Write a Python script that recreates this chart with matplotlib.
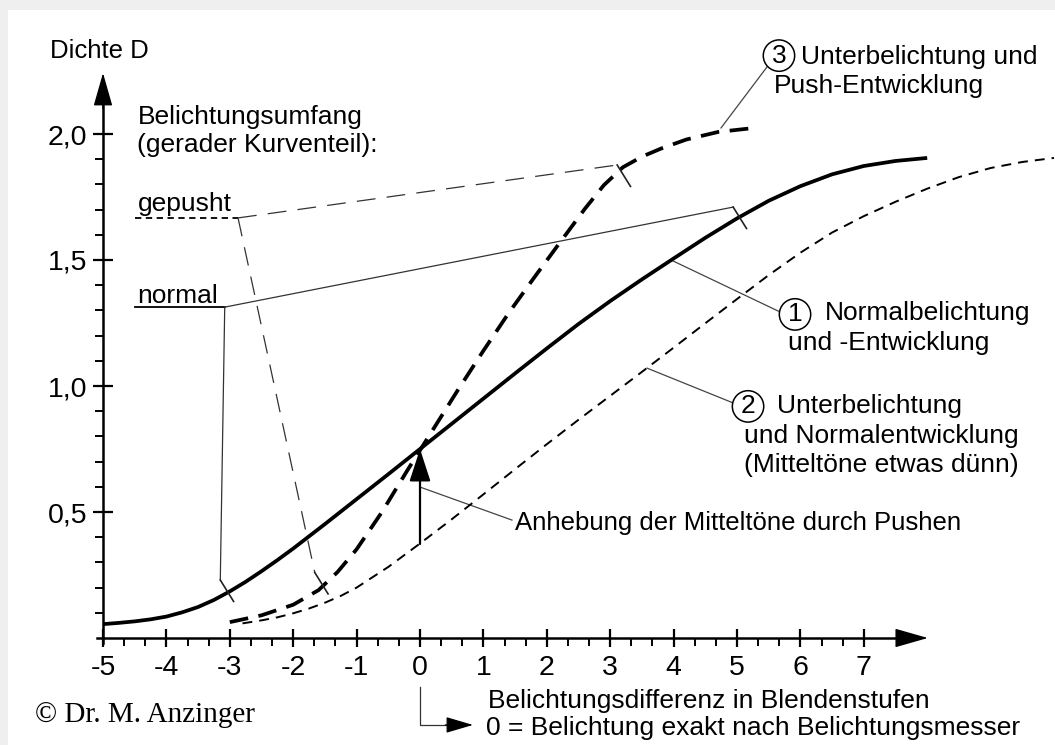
import matplotlib
matplotlib.use('Agg')
import matplotlib.pyplot as plt
from matplotlib.patches import Rectangle

plt.rcParams['font.family'] = ['Liberation Sans', 'DejaVu Sans']

# Kurve 1: Normalbelichtung und -Entwicklung
x_normal = [-5, -4.75, -4.5, -4.25, -4, -3.75, -3.5, -3.25, -3, -2.75, -2.5, -2.25,
            -2, -1.5, -1, -0.5, 0, 0.5, 1, 1.5, 2, 2.5, 3, 3.5, 4, 4.5, 5,
            5.5, 6, 6.5, 7, 7.5, 8]
d_normal = [0.055, 0.060, 0.066, 0.074, 0.085, 0.102, 0.123, 0.151, 0.185, 0.223,
            0.265, 0.309, 0.355, 0.452, 0.551, 0.650, 0.750, 0.850, 0.950, 1.050,
            1.149, 1.246, 1.337, 1.423, 1.506, 1.588, 1.665, 1.735, 1.793, 1.840,
            1.873, 1.893, 1.905]

# Kurve 2: Unterbelichtung und Normalentwicklung
x_unter = [-2.8, -2.5, -2.25, -2, -1.75, -1.5, -1.25, -1, -0.5, 0, 0.5, 1, 1.5, 2,
           2.5, 3, 3.5, 4, 4.5, 5, 5.5, 6, 6.5, 7, 7.5, 8, 8.5, 9, 9.5, 10]
d_unter = [0.058, 0.070, 0.082, 0.098, 0.117, 0.140, 0.167, 0.200, 0.282, 0.375,
           0.471, 0.570, 0.670, 0.769, 0.866, 0.961, 1.056, 1.152, 1.249, 1.345,
           1.440, 1.529, 1.609, 1.674, 1.731, 1.783, 1.829, 1.865, 1.889, 1.905]

# Kurve 3: Unterbelichtung und Push-Entwicklung
x_push = [-3, -2.5, -2, -1.6, -1.3, -1, -0.6, -0.2, 0.2, 0.6, 1, 1.4, 1.8, 2.2,
          2.6, 2.9, 3.2, 3.5, 3.8, 4.2, 4.7, 5.2]
d_push = [0.063, 0.090, 0.132, 0.190, 0.262, 0.352, 0.500, 0.665, 0.825, 0.985,
          1.140, 1.290, 1.430, 1.567, 1.703, 1.797, 1.868, 1.910, 1.942, 1.978,
          2.008, 2.022]

# Belichtungsumfang (gerader Kurventeil): Eckpunkt, oben rechts, unten links
normal_ecke = (-3.08, 1.313)
normal_oben = (4.94, 1.71)
normal_unten = (-3.15, 0.23)
push_ecke = (-2.87, 1.667)
push_oben = (3.11, 1.877)
push_unten = (-1.66, 0.26)
label_x = -4.495

# Anhebung der Mitteltoene bei 0
anhebung_x = 0
anhebung_von = 0.373
anhebung_bis = 0.75

xticks = [-5, -4, -3, -2, -1, 0, 1, 2, 3, 4, 5, 6, 7]
xtick_labels = ['-5', '-4', '-3', '-2', '-1', '0', '1', '2', '3', '4', '5', '6', '7']
yticks = [0.5, 1.0, 1.5, 2.0]
ytick_labels = ['0,5', '1,0', '1,5', '2,0']

FS = 19
W, H = 1055, 745
fig = plt.figure(figsize=(W / 100, H / 100), dpi=100, facecolor='#efefef')
fig.patches.append(Rectangle((8, 0), W - 8, H - 10, transform=None,
                             facecolor='white', edgecolor='none', zorder=-10))
ax = fig.add_axes([0, 0, 1, 1])
ax.patch.set_visible(False)
ax.set_xlim(-420 / 63.4, (W - 420) / 63.4)
ax.set_ylim(-(H - 638) / 252, 638 / 252)

# Achsen
for s in ['top', 'right']:
    ax.spines[s].set_visible(False)
ax.spines['left'].set_position(('data', -5))
ax.spines['bottom'].set_position(('data', 0))
ax.spines['left'].set_bounds(-0.02, 2.15)
ax.spines['bottom'].set_bounds(-5.1, 7.7)
ax.spines['left'].set_linewidth(1.8)
ax.spines['bottom'].set_linewidth(1.8)

ax.set_xticks(xticks)
ax.set_xticklabels(xtick_labels)
ax.set_xticks([t + k / 3 for t in xticks for k in (1, 2) if t < 7], minor=True)
ax.set_yticks(yticks)
ax.set_yticklabels(ytick_labels)
ax.set_yticks([v / 10 for v in range(1, 20) if v % 5 != 0], minor=True)
ax.tick_params(which='major', direction='inout', length=15, width=1.6,
               labelsize=20.5, pad=4)
ax.tick_params(axis='x', which='major', length=13, pad=6)
ax.tick_params(which='minor', direction='out', length=6, width=1.4)

arrow_head = dict(arrowstyle='-|>,head_length=2.1,head_width=0.6',
                  mutation_scale=10, color='black', lw=1, shrinkA=0, shrinkB=0)
ax.annotate('', xy=(-5, 2.242), xytext=(-5, 2.1), arrowprops=arrow_head)
ax.annotate('', xy=(8.01, 0), xytext=(7.6, 0), arrowprops=arrow_head)

# Kennlinien
ax.plot(x_normal, d_normal, color='black', lw=2.7, solid_capstyle='butt',
        solid_joinstyle='round', zorder=5)
ax.plot(x_unter, d_unter, color='black', lw=1.4, ls=(0, (5.1, 3.6)), zorder=5)
ax.plot(x_push, d_push, color='black', lw=2.7, ls=(0, (5.0, 2.8)), zorder=5)

# Belichtungsumfang normal
thin = dict(color='#333333', lw=0.9, zorder=3)
ax.plot([label_x, normal_ecke[0]], [normal_ecke[1]] * 2, color='black', lw=1.3)
ax.plot([normal_ecke[0], normal_oben[0]], [normal_ecke[1], normal_oben[1]], **thin)
ax.plot([normal_ecke[0], normal_unten[0]], [normal_ecke[1], normal_unten[1]], **thin)

# Belichtungsumfang gepusht
ax.plot([label_x, push_ecke[0]], [push_ecke[1]] * 2, color='black', lw=1.3,
        ls=(0, (3.5, 2.5)))
ax.plot([push_ecke[0], push_oben[0]], [push_ecke[1], push_oben[1]],
        ls=(0, (15, 9)), **thin)
ax.plot([push_ecke[0], push_unten[0]], [push_ecke[1], push_unten[1]],
        ls=(0, (15, 9)), **thin)

# Endmarken
for px, py in [normal_oben, normal_unten, push_oben, push_unten]:
    ax.plot([px, px + 0.21], [py, py - 0.085], color='#222222', lw=1.2, zorder=6)

ax.text(label_x + 0.04, 1.694, 'gepusht', fontsize=FS, va='baseline')
ax.text(label_x + 0.04, 1.329, 'normal', fontsize=FS, va='baseline')
ax.text(-4.448, 2.040, 'Belichtungsumfang', fontsize=FS, va='baseline')
ax.text(-4.464, 1.929, '(gerader Kurventeil):', fontsize=FS, va='baseline')
ax.text(-5.836, 2.302, 'Dichte D', fontsize=FS - 0.5, va='baseline')

# Pfeil Anhebung
ax.annotate('', xy=(anhebung_x, anhebung_bis), xytext=(anhebung_x, anhebung_von),
            arrowprops=dict(arrowstyle='-|>,head_length=2.0,head_width=0.65',
                            mutation_scale=10, color='black', lw=1.6,
                            shrinkA=0, shrinkB=0), zorder=7)
ax.plot([0, 1.45], [0.599, 0.468], color='#444444', lw=0.9)
ax.text(1.498, 0.429, 'Anhebung der Mitteltöne durch Pushen', fontsize=FS - 0.5,
        va='baseline')

# Beschriftungen der Kurven
circ = dict(boxstyle='circle,pad=0.14', facecolor='white', edgecolor='black', lw=1.1)
ax.plot([5.473, 4.748], [2.266, 2.024], color='#444444', lw=0.9)
ax.text(5.662, 2.321, '3', fontsize=FS, ha='center', va='center_baseline', bbox=circ)
ax.text(6.009, 2.278, 'Unterbelichtung und', fontsize=FS, va='baseline')
ax.text(5.584, 2.163, 'Push-Entwicklung', fontsize=FS, va='baseline')

ax.plot([3.959, 5.678], [1.5, 1.294], color='#444444', lw=0.9)
ax.text(5.915, 1.294, '1', fontsize=FS, ha='center', va='center_baseline', bbox=circ)
ax.text(6.388, 1.262, 'Normalbelichtung', fontsize=FS, va='baseline')
ax.text(5.804, 1.143, 'und -Entwicklung', fontsize=FS, va='baseline')

ax.plot([3.580, 4.937], [1.071, 0.933], color='#444444', lw=0.9)
ax.text(5.174, 0.929, '2', fontsize=FS, ha='center', va='center_baseline', bbox=circ)
ax.text(5.631, 0.893, 'Unterbelichtung', fontsize=FS, va='baseline')
ax.text(5.110, 0.774, 'und Normalentwicklung', fontsize=FS, va='baseline')
ax.text(5.110, 0.659, '(Mitteltöne etwas dünn)', fontsize=FS, va='baseline')

# x-Achsenbeschriftung
ax.plot([0, 0, 0.45], [-0.194, -0.345, -0.345], color='#333333', lw=0.9)
ax.annotate('', xy=(0.836, -0.345), xytext=(0.4, -0.345),
            arrowprops=dict(arrowstyle='-|>,head_length=1.7,head_width=0.5',
                            mutation_scale=10, color='black', lw=0.9,
                            shrinkA=0, shrinkB=0))
ax.text(1.073, -0.278, 'Belichtungsdifferenz in Blendenstufen', fontsize=FS,
        va='baseline')
ax.text(1.041, -0.385, '0 = Belichtung exakt nach Belichtungsmesser',
        fontsize=FS, va='baseline')

ax.text(-6.073, -0.333, '© Dr. M. Anzinger', fontsize=21, va='baseline',
        family=['Liberation Serif', 'DejaVu Serif'])

fig.savefig('out.png', dpi=100, facecolor=fig.get_facecolor())
